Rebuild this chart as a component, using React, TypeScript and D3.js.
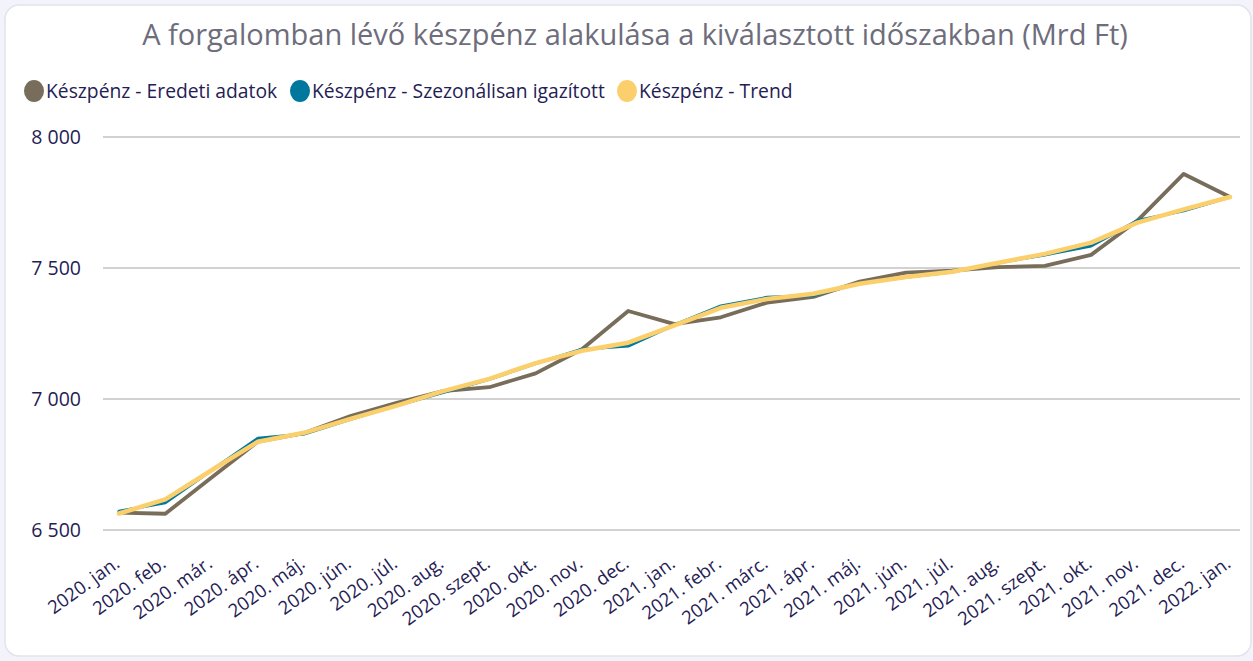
import React from "react";
import * as d3 from "d3";

const months: string[] = [
  "2020. jan.", "2020. feb.", "2020. már.", "2020. ápr.", "2020. máj.", "2020. jún.",
  "2020. júl.", "2020. aug.", "2020. szept.", "2020. okt.", "2020. nov.", "2020. dec.",
  "2021. jan.", "2021. febr.", "2021. márc.", "2021. ápr.", "2021. máj.", "2021. jún.",
  "2021. júl.", "2021. aug.", "2021. szept.", "2021. okt.", "2021. nov.", "2021. dec.",
  "2022. jan.",
];

const original: number[] = [
  6566, 6562, 6700, 6837, 6870, 6935, 6985, 7030, 7045, 7098, 7190, 7336,
  7286, 7312, 7368, 7390, 7448, 7482, 7490, 7503, 7508, 7550, 7681, 7859, 7771,
];

const seasonal: number[] = [
  6572, 6604, 6728, 6850, 6866, 6922, 6975, 7025, 7075, 7135, 7190, 7202,
  7283, 7355, 7388, 7395, 7442, 7465, 7485, 7520, 7550, 7584, 7681, 7718, 7771,
];

const trend: number[] = [
  6563, 6617, 6728, 6837, 6871, 6924, 6975, 7030, 7077, 7137, 7184, 7215,
  7281, 7348, 7382, 7402, 7440, 7466, 7486, 7520, 7554, 7597, 7673, 7724, 7771,
];

const yTicks: number[] = [6500, 7000, 7500, 8000];

const seriesNames: string[] = [
  "Készpénz - Eredeti adatok",
  "Készpénz - Szezonálisan igazított",
  "Készpénz - Trend",
];
const seriesColors: string[] = ["#776d5a", "#00789e", "#fbd06c"];
const seriesWidths: number[] = [3.8, 3, 4.5];

const title = "A forgalomban lévő készpénz alakulása a kiválasztott időszakban (Mrd Ft)";

export default function App() {
  const W = 1253;
  const H = 661;
  const plotLeft = 103;
  const plotRight = 1240;
  const x = d3.scalePoint<string>().domain(months).range([119, 1230]);
  const y = d3.scaleLinear().domain([6500, 8000]).range([530, 137]);
  const allSeries = [original, seasonal, trend];
  const line = d3
    .line<number>()
    .x((_, i) => x(months[i]) as number)
    .y((d) => y(d));
  const fmt = (v: number) => d3.format(",")(v).replace(/,/g, " ");
  const legendX = [34, 300, 627];
  const textColor = "#1f2155";
  const font = "'Open Sans', sans-serif";

  return (
    <svg
      width={W}
      height={H}
      style={{ position: "absolute", left: 0, top: 0, display: "block" }}
      fontFamily={font}
    >
      <rect x={0} y={0} width={W} height={H} fill="#f3f4fb" />
      <rect x={5} y={5} width={W - 7} height={H - 10} rx={14} fill="#ffffff" stroke="#e2e3ec" strokeWidth={1.5} />
      <text x={635} y={45} textAnchor="middle" fontSize={29} fill="#6d6d7c">
        {title}
      </text>
      {seriesNames.map((n, i) => (
        <g key={n}>
          <ellipse cx={legendX[i]} cy={91} rx={10} ry={11} fill={seriesColors[i]} />
          <text x={legendX[i] + 12} y={97.5} fontSize={19.3} fill={textColor}>
            {n}
          </text>
        </g>
      ))}
      {yTicks.map((t) => (
        <g key={t}>
          <line x1={plotLeft} x2={plotRight} y1={y(t)} y2={y(t)} stroke="#d2d2d2" strokeWidth={2} />
          <text x={81} y={y(t) + 7} textAnchor="end" fontSize={19.5} fill={textColor}>
            {fmt(t)}
          </text>
        </g>
      ))}
      {months.map((m) => (
        <text
          key={m}
          transform={`translate(${(x(m) as number) + 2},${566}) rotate(-36)`}
          textAnchor="end"
          fontSize={18.5}
          fill={textColor}
        >
          {m}
        </text>
      ))}
      {allSeries.map((s, i) => (
        <path
          key={i}
          d={line(s) as string}
          fill="none"
          stroke={seriesColors[i]}
          strokeWidth={seriesWidths[i]}
          strokeLinejoin="round"
          strokeLinecap="round"
        />
      ))}
    </svg>
  );
}
